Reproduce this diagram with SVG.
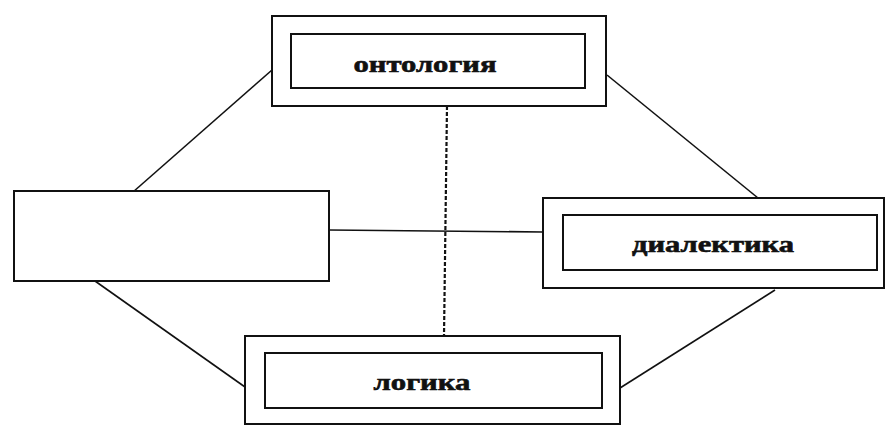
<svg xmlns="http://www.w3.org/2000/svg" width="886" height="426" viewBox="0 0 886 426">
<style>
.box{fill:#fff;stroke:#111;stroke-width:2}
.ln{stroke:#111;stroke-width:1.6;fill:none}
.dash{stroke:#111;stroke-width:2.2;stroke-dasharray:4 2;fill:none}
.lbl{font-family:"Liberation Serif","DejaVu Serif",serif;font-weight:bold;font-size:23px;fill:#111;stroke:#111;stroke-width:0.6;text-anchor:middle}
</style>
<rect width="886" height="426" fill="#fff"/>
<g id="connectors">
<line class="ln" x1="272" y1="70" x2="133" y2="192"/>
<line class="ln" x1="607" y1="75" x2="758" y2="198"/>
<line class="ln" x1="95" y1="281" x2="245" y2="387"/>
<line class="ln" x1="775" y1="290" x2="620" y2="388"/>
<line class="ln" x1="329" y1="230" x2="543" y2="232"/>
<line class="dash" x1="447" y1="106" x2="444" y2="336"/>
</g>
<g id="ontology">
<rect class="box" x="272" y="16" width="334" height="90"/>
<rect class="box" x="291" y="34" width="294" height="54"/>
<text class="lbl" x="425" y="72" textLength="143" lengthAdjust="spacingAndGlyphs">онтология</text>
</g>
<g id="empty">
<rect class="box" x="14" y="191" width="315" height="90"/>
</g>
<g id="dialectics">
<rect class="box" x="543" y="198" width="341" height="90"/>
<rect class="box" x="563" y="215" width="314" height="55"/>
<text class="lbl" x="713" y="252" textLength="162" lengthAdjust="spacingAndGlyphs">диалектика</text>
</g>
<g id="logic">
<rect class="box" x="245" y="336" width="375" height="88"/>
<rect class="box" x="265" y="353" width="337" height="55"/>
<text class="lbl" x="422" y="390" textLength="97" lengthAdjust="spacingAndGlyphs">логика</text>
</g>
</svg>
